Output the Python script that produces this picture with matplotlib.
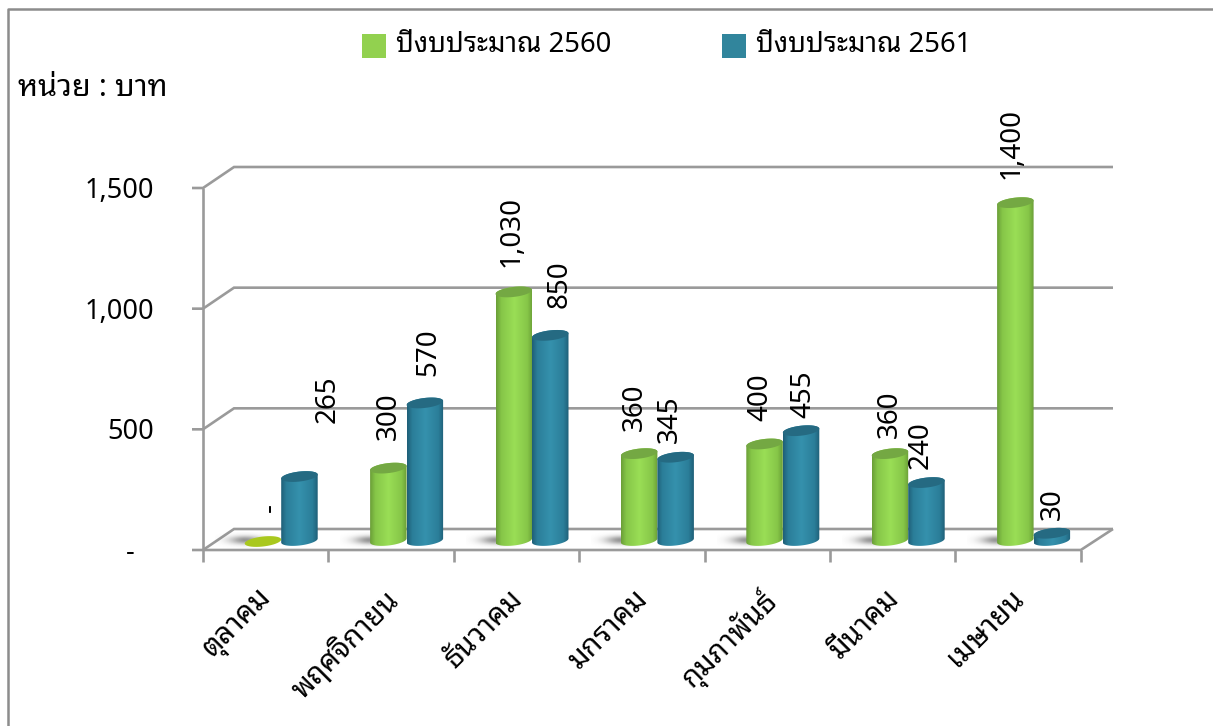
import matplotlib
matplotlib.use('Agg')
import matplotlib.pyplot as plt
import numpy as np
from matplotlib import font_manager as fm
from matplotlib.colors import LinearSegmentedColormap
from matplotlib.lines import Line2D
from matplotlib.patches import PathPatch, Polygon, Rectangle
from matplotlib.path import Path

months = ['ตุลาคม', 'พฤศจิกายน', 'ธันวาคม', 'มกราคม', 'กุมภาพันธ์', 'มีนาคม', 'เมษายน']
budget_2560 = [0, 300, 1030, 360, 400, 360, 1400]
budget_2561 = [265, 570, 850, 345, 455, 240, 30]
labels_2560 = ['-', '300', '1,030', '360', '400', '360', '1,400']
labels_2561 = ['265', '570', '850', '345', '455', '240', '30']
y_ticks = [0, 500, 1000, 1500]
y_tick_labels = ['-', '500', '1,000', '1,500']
y_label_right = [135, 154, 154, 154]

# เลื่อนตำแหน่งป้ายตัวเลข (px) ตามภาพต้นฉบับ
nudge_2560 = [(7, 23), (0, 23), (-2, 20), (-4, 18), (-4, 18), (0, 11), (-4, 19)]
nudge_2561 = [(28, 49), (3, 22), (9, 22), (-6, 9), (2, 8), (-6, 9), (1, 8)]

names = {f.name for f in fm.fontManager.ttflist}
thai = [n for n in ['Noto Sans Thai Looped', 'IBM Plex Sans Thai Looped', 'Sarabun', 'Noto Sans Thai'] if n in names]
plt.rcParams['font.family'] = thai[:1] + ['DejaVu Sans']

W, H = 1213, 726
X0, CAT_W = 203, 125.4
Y0, PX_PER_UNIT = 550, 362 / 1500
DX, DY = 31 / CAT_W, 21 / PX_PER_UNIT      # ความลึกของกราฟ 3 มิติ
BAR_W = 36.5 / CAT_W
BASE = 9.5 / PX_PER_UNIT                   # ฐานแท่งอยู่กลางพื้น
ELL_B = 5 / PX_PER_UNIT
ELL_TILT = 2 / PX_PER_UNIT
GRID = '#9a9a9a'

fig = plt.figure(figsize=(W / 100, H / 100), dpi=100, facecolor='white')
ax = fig.add_axes([0, 0, 1, 1])
ax.axis('off')


def fx(px):
    return (px - X0) / CAT_W


def fy(py):
    return (Y0 - py) / PX_PER_UNIT


def ramp(edge, mid, light):
    return LinearSegmentedColormap.from_list('c', [(0, edge), (0.14, mid), (0.5, light), (0.86, mid), (1, edge)])


green_map = ramp('#6b9f38', '#86c648', '#9ade56')
blue_map = ramp('#1f5f78', '#2b7e99', '#3591ad')


def ellipse(cx, cy, start, stop):
    t = np.linspace(start, stop, 40)
    return np.column_stack([cx + BAR_W / 2 * np.cos(t), cy + ELL_B * np.sin(t) + ELL_TILT * np.cos(t)])


def cylinder(cx, value, cmap, top_color):
    cy0, cy1 = BASE, BASE + value
    body = np.vstack([ellipse(cx, cy0, np.pi, 2 * np.pi), ellipse(cx, cy1, 0, np.pi)])
    grad = cmap(np.linspace(0, 1, 64))[None, :, :]
    im = ax.imshow(grad, extent=[cx - BAR_W / 2, cx + BAR_W / 2, cy0 - 2 * ELL_B, cy1 + 2 * ELL_B],
                   aspect='auto', zorder=3, interpolation='bilinear')
    im.set_clip_path(PathPatch(Path(np.vstack([body, body[:1]])), transform=ax.transData))
    ax.add_patch(Polygon(ellipse(cx, cy1, 0, 2 * np.pi), fc=top_color, ec='none', zorder=3))


def shadow(cx):
    u, v = np.meshgrid(np.linspace(-1, 1, 60), np.linspace(-1, 1, 30))
    img = np.zeros((30, 60, 4))
    img[..., :3] = 0.4
    img[..., 3] = 0.7 * np.exp(-(u ** 2 + v ** 2) * 3.5)
    ax.imshow(img, extent=[cx - 30 / CAT_W, cx + 30 / CAT_W, BASE - 8 / PX_PER_UNIT, BASE + 8 / PX_PER_UNIT],
              aspect='auto', zorder=1.5, interpolation='bilinear')


# พื้นและเส้นกริด
line_kw = dict(color=GRID, lw=1.9, solid_capstyle='butt', solid_joinstyle='miter', zorder=1)
ax.fill([0, DX, fx(1113), 7], [0, DY, DY, 0], color='white', zorder=0.5)
x_end = fx(1113)
for v in y_ticks:
    ax.plot([fx(192), 0, DX, x_end], [v, v, v + DY, v + DY], **line_kw)
ax.plot([0, 0], [0, y_ticks[-1]], **line_kw)
ax.plot([0, 7, x_end], [0, 0, DY], **line_kw)
for i in range(8):
    ax.plot([i, i], [0, fy(562)], **line_kw)

# แท่ง
pair_shift = 15.5 / CAT_W
for i in range(len(months)):
    c_green = i + 0.5 + pair_shift - BAR_W / 2
    c_blue = i + 0.5 + pair_shift + BAR_W / 2
    shadow(c_green - 18 / CAT_W)
    if budget_2560[i] > 0:
        cylinder(c_green, budget_2560[i], green_map, '#74a843')
    else:
        ax.add_patch(Polygon(ellipse(c_green, BASE - 1 / PX_PER_UNIT, 0, 2 * np.pi), fc='#a9c81e', ec='none', zorder=2))
    cylinder(c_blue, budget_2561[i], blue_map, '#256a82')

    for c, val, txt, nudge in [(c_green, budget_2560[i], labels_2560[i], nudge_2560[i]),
                               (c_blue, budget_2561[i], labels_2561[i], nudge_2561[i])]:
        ax.annotate(txt, xy=(c, BASE + val + ELL_B), xytext=(nudge[0] * 0.72, nudge[1] * 0.72),
                    textcoords='offset points', rotation=90, ha='center', va='bottom',
                    fontsize=20, color='black', zorder=5)

    ax.text(i + 0.5 - 8 / CAT_W, fy(584), months[i], rotation=45, rotation_mode='anchor',
            ha='right', va='top', fontsize=21, color='black')

for v, txt, right in zip(y_ticks, y_tick_labels, y_label_right):
    ax.text(fx(right), v - 3 / PX_PER_UNIT, txt, ha='right', va='center', fontsize=19.5, color='black')

ax.text(fx(18), fy(88), 'หน่วย : บาท', ha='left', va='center', fontsize=22, color='black')

# คำอธิบายสัญลักษณ์
for px_left, color, txt in [(362, '#92d14f', 'ปีงบประมาณ 2560'), (722, '#31859c', 'ปีงบประมาณ 2561')]:
    ax.add_patch(Rectangle((fx(px_left), fy(58)), 24 / CAT_W, 24 / PX_PER_UNIT, fc=color, ec='none'))
    ax.text(fx(px_left + 34), fy(45), txt, ha='left', va='center', fontsize=19.8, color='black')

ax.set_xlim(fx(0), fx(W))
ax.set_ylim(fy(H), fy(0))

# กรอบภาพด้านบนและซ้าย
fig.add_artist(Line2D([8 / W, 8 / W, 1], [0, 1 - 9 / H, 1 - 9 / H], color='#8c8c8c', lw=1.8))

fig.savefig('out.png', dpi=100)
